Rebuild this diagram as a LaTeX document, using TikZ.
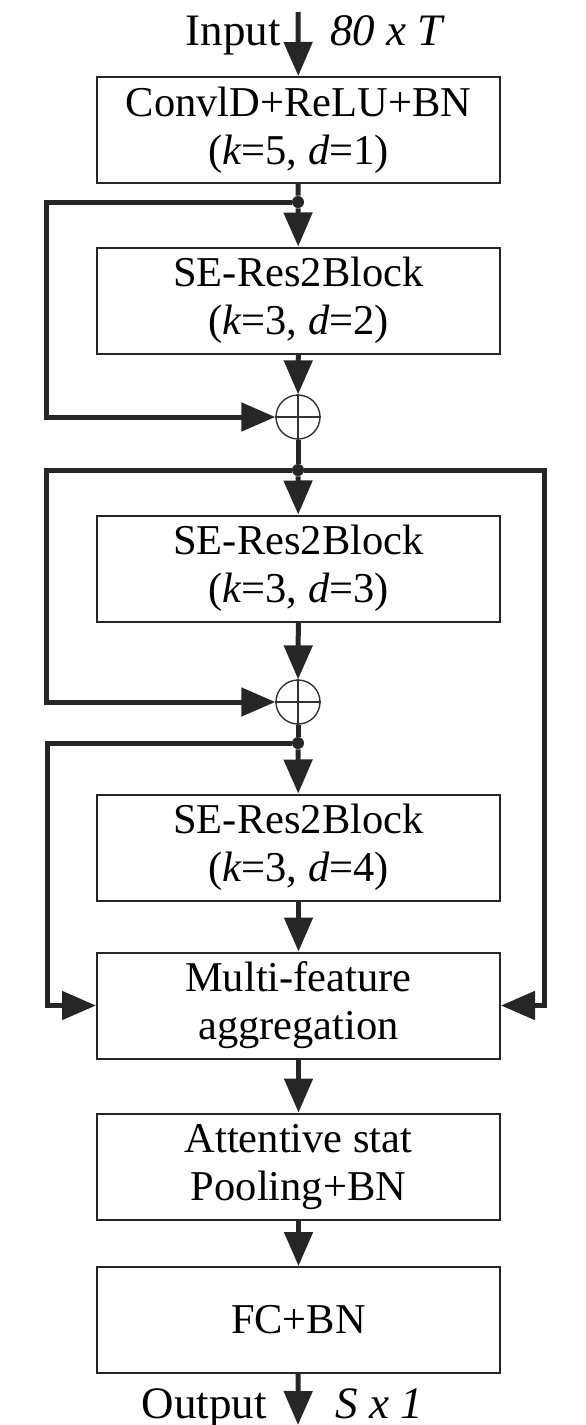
\documentclass[tikz,border=0pt]{standalone}
\usepackage{fontspec}
\setmainfont{Liberation Serif}
\usetikzlibrary{arrows.meta}
\begin{document}
\begin{tikzpicture}[x=0.5pt,y=-0.5pt]
\tikzstyle{block}=[rectangle,draw=black!85,line width=1pt,fill=white,minimum width=201.5pt,minimum height=53pt,inner sep=0pt,align=center,font=\fontsize{21.25}{24}\selectfont]
\tikzstyle{adder}=[circle,draw=black!80,line width=0.7pt,fill=white,minimum size=22pt,inner sep=0pt]
\tikzstyle{joint}=[circle,fill=black!85,inner sep=0pt,minimum size=6pt]
\tikzstyle{lbl}=[inner sep=0pt,font=\fontsize{22.5}{27}\selectfont]
\tikzstyle{link}=[line width=2.5pt,draw=black!85]
\tikzstyle{arrow}=[link,-{Triangle[length=17pt,width=14pt]}]

\useasboundingbox (0,0) rectangle (585,1425);

\node[block] (conv) at (298.5,130) {ConvlD+ReLU+BN\\(\textit{k}=5, \textit{d}=1)};
\node[block] (se1) at (298.5,300.5) {SE-Res2Block\\(\textit{k}=3, \textit{d}=2)};
\node[block] (se2) at (298.5,568.5) {SE-Res2Block\\(\textit{k}=3, \textit{d}=3)};
\node[block] (se3) at (298.5,847.5) {SE-Res2Block\\(\textit{k}=3, \textit{d}=4)};
\node[block] (mfa) at (298.5,1005.5) {Multi-feature\\aggregation};
\node[block] (pool) at (298.5,1166.5) {Attentive stat\\Pooling+BN};
\node[block] (fc) at (298.5,1320) {FC+BN};

\node[adder] (add1) at (298,417) {};
\node[adder] (add2) at (298,702) {};
\draw[line width=0.7pt,black!80] (add1.north) -- (add1.south) (add1.west) -- (add1.east);
\draw[line width=0.7pt,black!80] (add2.north) -- (add2.south) (add2.west) -- (add2.east);

\node[joint] (j1) at (298,202) {};
\node[joint] (j2) at (298,470) {};
\node[joint] (j3) at (298,743) {};

\coordinate (in) at (298,12);
\coordinate (out) at (298,1425);
\coordinate (l1) at (46,202);
\coordinate (l2) at (46,470);
\coordinate (r2) at (544,470);
\coordinate (l3) at (47,743);

\node[lbl,anchor=base east] (inlbl) at (281,45) {Input};
\node[lbl,anchor=base west] (indim) at (330,45) {\textit{80 x T}};
\node[lbl,anchor=base east] (outlbl) at (267,1418) {Output};
\node[lbl,anchor=base west] (outdim) at (335,1418) {\textit{S x 1}};


\draw[arrow] (in) -- (conv);
\draw[link] (conv) -- (j1);
\draw[arrow] (j1) -- (se1);
\draw[arrow] (j1) -- (l1) |- (add1);
\draw[arrow] (se1) -- (add1);

\draw[link] (add1) -- (j2);
\draw[arrow] (j2) -- (se2);
\draw[arrow] (j2) -- (l2) |- (add2);
\draw[arrow] (j2) -- (r2) |- (mfa);
\draw[arrow] (se2) -- (add2);

\draw[link] (add2) -- (j3);
\draw[arrow] (j3) -- (se3);
\draw[arrow] (j3) -- (l3) |- (mfa);
\draw[arrow] (se3) -- (mfa);

\draw[arrow] (mfa) -- (pool);
\draw[arrow] (pool) -- (fc);
\draw[arrow] (fc) -- (out);

\end{tikzpicture}
\end{document}
